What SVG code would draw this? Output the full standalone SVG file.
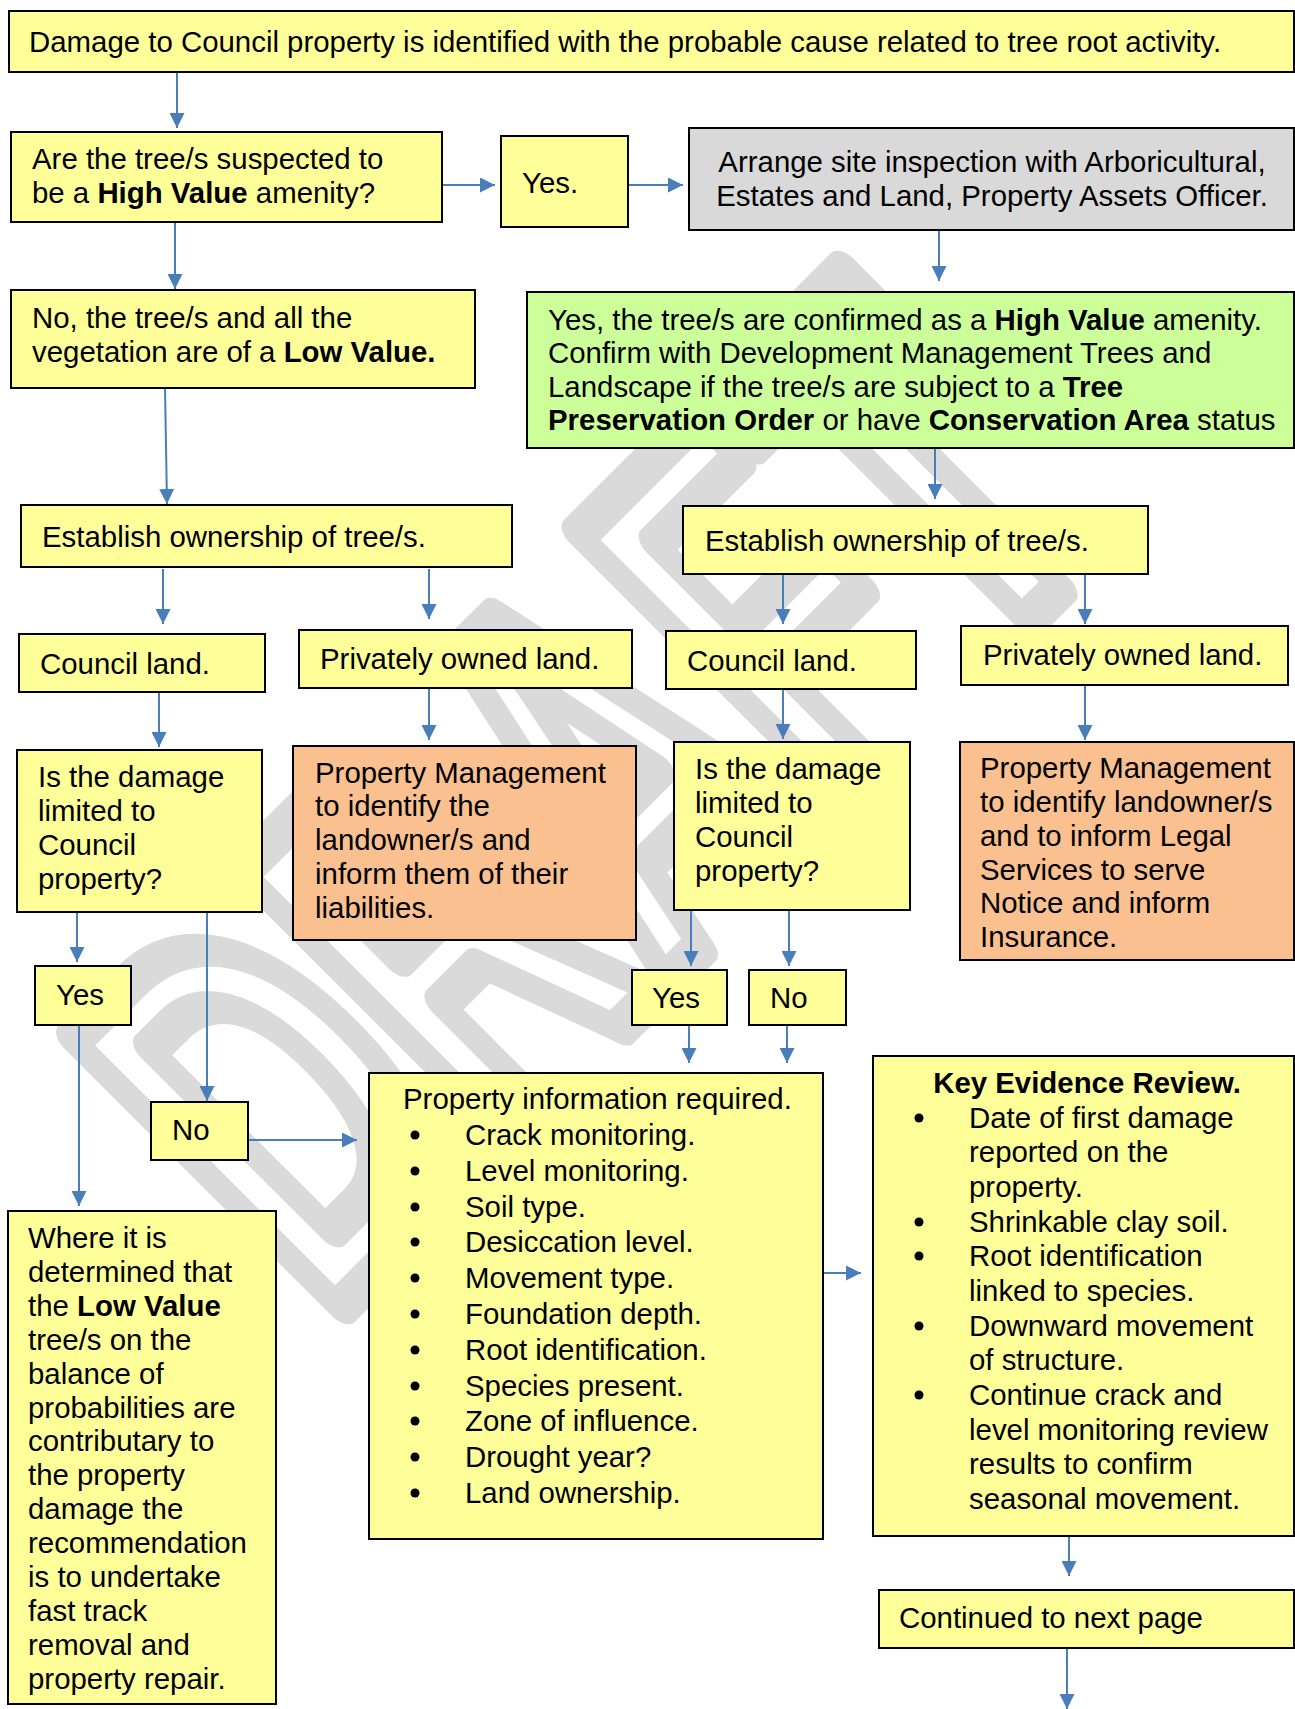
<svg xmlns="http://www.w3.org/2000/svg" width="1295" height="1709" viewBox="0 0 1295 1709">
<defs>
<marker id="ah" viewBox="0 0 15 15" refX="15" refY="7.5" markerWidth="15" markerHeight="15" markerUnits="userSpaceOnUse" orient="auto">
<path d="M0,0 L15,7.5 L0,15 z" fill="#4a7ebb"/>
</marker>
<style>
.bx{stroke:#000;stroke-width:2}
.y{fill:#ffff99}.o{fill:#fac090}.g{fill:#ccff99}.gr{fill:#d9d9d9}
text{font-family:"Liberation Sans",Arial,sans-serif;font-size:29.4px;fill:#000}
.b{font-weight:bold}
.c{stroke:#4a7ebb;stroke-width:2;fill:none;marker-end:url(#ah)}
.dot{fill:#000}
</style>
</defs>
<rect width="1295" height="1709" fill="#fff"/>
<g id="watermark" transform="rotate(-45)">
<text x="-706" y="698" transform="scale(1,1.67)" style="font-size:330px;font-weight:bold;fill:none;stroke:#dadada;stroke-width:24px;stroke-linejoin:round">DRAFT</text>
</g>
<g id="connectors">
<path class="c" d="M177,72 V128"/>
<path class="c" d="M442,185 H495"/>
<path class="c" d="M628,185 H683"/>
<path class="c" d="M175,222 V289"/>
<path class="c" d="M939,230 V281"/>
<path class="c" d="M165,388 L167,504"/>
<path class="c" d="M935,448 V499"/>
<path class="c" d="M163,569 V624"/>
<path class="c" d="M429,569 V619"/>
<path class="c" d="M783,574 V624"/>
<path class="c" d="M1085,574 V624"/>
<path class="c" d="M159,693 V747"/>
<path class="c" d="M429,688 V740"/>
<path class="c" d="M783,690 V739"/>
<path class="c" d="M1085,685 V740"/>
<path class="c" d="M77,912 V962"/>
<path class="c" d="M207,912 V1101"/>
<path class="c" d="M79,1025 V1206"/>
<path class="c" d="M248,1140 H357"/>
<path class="c" d="M691,910 V966"/>
<path class="c" d="M789,910 V966"/>
<path class="c" d="M689,1025 V1063"/>
<path class="c" d="M787,1025 V1063"/>
<path class="c" d="M823,1273 H861"/>
<path class="c" d="M1069,1536 V1576"/>
<path class="c" d="M1067,1643 V1709"/>
</g>
<g id="n-damage"><rect class="bx y" x="9" y="11" width="1285" height="61"/>
<text x="29" y="52">Damage to Council property is identified with the probable cause related to tree root activity.</text></g>
<g id="n-suspected"><rect class="bx y" x="11" y="132" width="431" height="90"/>
<text x="32" y="169">Are the tree/s suspected to</text>
<text x="32" y="203">be a <tspan class="b">High Value</tspan> amenity?</text></g>
<g id="n-yes1"><rect class="bx y" x="501" y="136" width="127" height="91"/>
<text x="522" y="193">Yes.</text></g>
<g id="n-arrange"><rect class="bx gr" x="689" y="128" width="605" height="102"/>
<text x="992" y="172" text-anchor="middle">Arrange site inspection with Arboricultural,</text>
<text x="992" y="206" text-anchor="middle">Estates and Land, Property Assets Officer.</text></g>
<g id="n-lowvalue"><rect class="bx y" x="11" y="290" width="464" height="98"/>
<text x="32" y="328">No, the tree/s and all the</text>
<text x="32" y="362">vegetation are of a <tspan class="b">Low Value.</tspan></text></g>
<g id="n-highvalue"><rect class="bx g" x="527" y="292" width="767" height="156"/>
<text x="548" y="330">Yes, the tree/s are confirmed as a <tspan class="b">High Value</tspan> amenity.</text>
<text x="548" y="363">Confirm with Development Management Trees and</text>
<text x="548" y="397">Landscape if the tree/s are subject to a <tspan class="b">Tree</tspan></text>
<text x="548" y="430"><tspan class="b">Preservation Order</tspan> or have <tspan class="b">Conservation Area</tspan> status</text></g>
<g id="n-establish1"><rect class="bx y" x="21" y="505" width="491" height="62"/>
<text x="42" y="547">Establish ownership of tree/s.</text></g>
<g id="n-establish2"><rect class="bx y" x="683" y="506" width="465" height="68"/>
<text x="705" y="551">Establish ownership of tree/s.</text></g>
<g id="n-council1"><rect class="bx y" x="19" y="634" width="246" height="58"/>
<text x="40" y="674">Council land.</text></g>
<g id="n-private1"><rect class="bx y" x="299" y="630" width="333" height="58"/>
<text x="320" y="669">Privately owned land.</text></g>
<g id="n-council2"><rect class="bx y" x="666" y="631" width="250" height="58"/>
<text x="687" y="671">Council land.</text></g>
<g id="n-private2"><rect class="bx y" x="961" y="626" width="327" height="59"/>
<text x="983" y="665">Privately owned land.</text></g>
<g id="n-limited1"><rect class="bx y" x="17" y="750" width="245" height="162"/>
<text x="38" y="787">Is the damage</text>
<text x="38" y="821">limited to</text>
<text x="38" y="855">Council</text>
<text x="38" y="889">property?</text></g>
<g id="n-pm1"><rect class="bx o" x="293" y="746" width="343" height="194"/>
<text x="315" y="783">Property Management</text>
<text x="315" y="816">to identify the</text>
<text x="315" y="850">landowner/s and</text>
<text x="315" y="884">inform them of their</text>
<text x="315" y="918">liabilities.</text></g>
<g id="n-limited2"><rect class="bx y" x="674" y="742" width="236" height="168"/>
<text x="695" y="779">Is the damage</text>
<text x="695" y="813">limited to</text>
<text x="695" y="847">Council</text>
<text x="695" y="881">property?</text></g>
<g id="n-pm2"><rect class="bx o" x="960" y="742" width="334" height="218"/>
<text x="980" y="778">Property Management</text>
<text x="980" y="812">to identify landowner/s</text>
<text x="980" y="846">and to inform Legal</text>
<text x="980" y="880">Services to serve</text>
<text x="980" y="913">Notice and inform</text>
<text x="980" y="947">Insurance.</text></g>
<g id="n-yes2"><rect class="bx y" x="35" y="966" width="96" height="59"/>
<text x="56" y="1005">Yes</text></g>
<g id="n-no2"><rect class="bx y" x="151" y="1102" width="97" height="58"/>
<text x="172" y="1140">No</text></g>
<g id="n-yes3"><rect class="bx y" x="632" y="970" width="95" height="55"/>
<text x="652" y="1008">Yes</text></g>
<g id="n-no3"><rect class="bx y" x="749" y="970" width="97" height="55"/>
<text x="770" y="1008">No</text></g>
<g id="n-removal"><rect class="bx y" x="8" y="1211" width="268" height="493"/>
<text x="28" y="1248">Where it is</text>
<text x="28" y="1282">determined that</text>
<text x="28" y="1316">the <tspan class="b">Low Value</tspan></text>
<text x="28" y="1350">tree/s on the</text>
<text x="28" y="1384">balance of</text>
<text x="28" y="1418">probabilities are</text>
<text x="28" y="1451">contributary to</text>
<text x="28" y="1485">the property</text>
<text x="28" y="1519">damage the</text>
<text x="28" y="1553">recommendation</text>
<text x="28" y="1587">is to undertake</text>
<text x="28" y="1621">fast track</text>
<text x="28" y="1655">removal and</text>
<text x="28" y="1689">property repair.</text></g>
<g id="n-propinfo"><rect class="bx y" x="369" y="1073" width="454" height="466"/>
<text x="403" y="1109">Property information required.</text>
<g class="dot"><circle cx="415" cy="1135" r="4.5"/><circle cx="415" cy="1171" r="4.5"/><circle cx="415" cy="1207" r="4.5"/><circle cx="415" cy="1242" r="4.5"/><circle cx="415" cy="1278" r="4.5"/><circle cx="415" cy="1314" r="4.5"/><circle cx="415" cy="1350" r="4.5"/><circle cx="415" cy="1386" r="4.5"/><circle cx="415" cy="1421" r="4.5"/><circle cx="415" cy="1457" r="4.5"/><circle cx="415" cy="1493" r="4.5"/></g>
<text x="465" y="1145">Crack monitoring.</text>
<text x="465" y="1181">Level monitoring.</text>
<text x="465" y="1217">Soil type.</text>
<text x="465" y="1252">Desiccation level.</text>
<text x="465" y="1288">Movement type.</text>
<text x="465" y="1324">Foundation depth.</text>
<text x="465" y="1360">Root identification.</text>
<text x="465" y="1396">Species present.</text>
<text x="465" y="1431">Zone of influence.</text>
<text x="465" y="1467">Drought year?</text>
<text x="465" y="1503">Land ownership.</text></g>
<g id="n-keyevidence"><rect class="bx y" x="873" y="1056" width="421" height="480"/>
<text x="1087" y="1093" text-anchor="middle" class="b">Key Evidence Review.</text>
<g class="dot"><circle cx="919" cy="1118" r="4.5"/><circle cx="919" cy="1222" r="4.5"/><circle cx="919" cy="1256" r="4.5"/><circle cx="919" cy="1326" r="4.5"/><circle cx="919" cy="1395" r="4.5"/></g>
<text x="969" y="1128">Date of first damage</text>
<text x="969" y="1162">reported on the</text>
<text x="969" y="1197">property.</text>
<text x="969" y="1232">Shrinkable clay soil.</text>
<text x="969" y="1266">Root identification</text>
<text x="969" y="1301">linked to species.</text>
<text x="969" y="1336">Downward movement</text>
<text x="969" y="1370">of structure.</text>
<text x="969" y="1405">Continue crack and</text>
<text x="969" y="1440">level monitoring review</text>
<text x="969" y="1474">results to confirm</text>
<text x="969" y="1509">seasonal movement.</text></g>
<g id="n-continued"><rect class="bx y" x="879" y="1590" width="415" height="58"/>
<text x="899" y="1628">Continued to next page</text></g>
</svg>
